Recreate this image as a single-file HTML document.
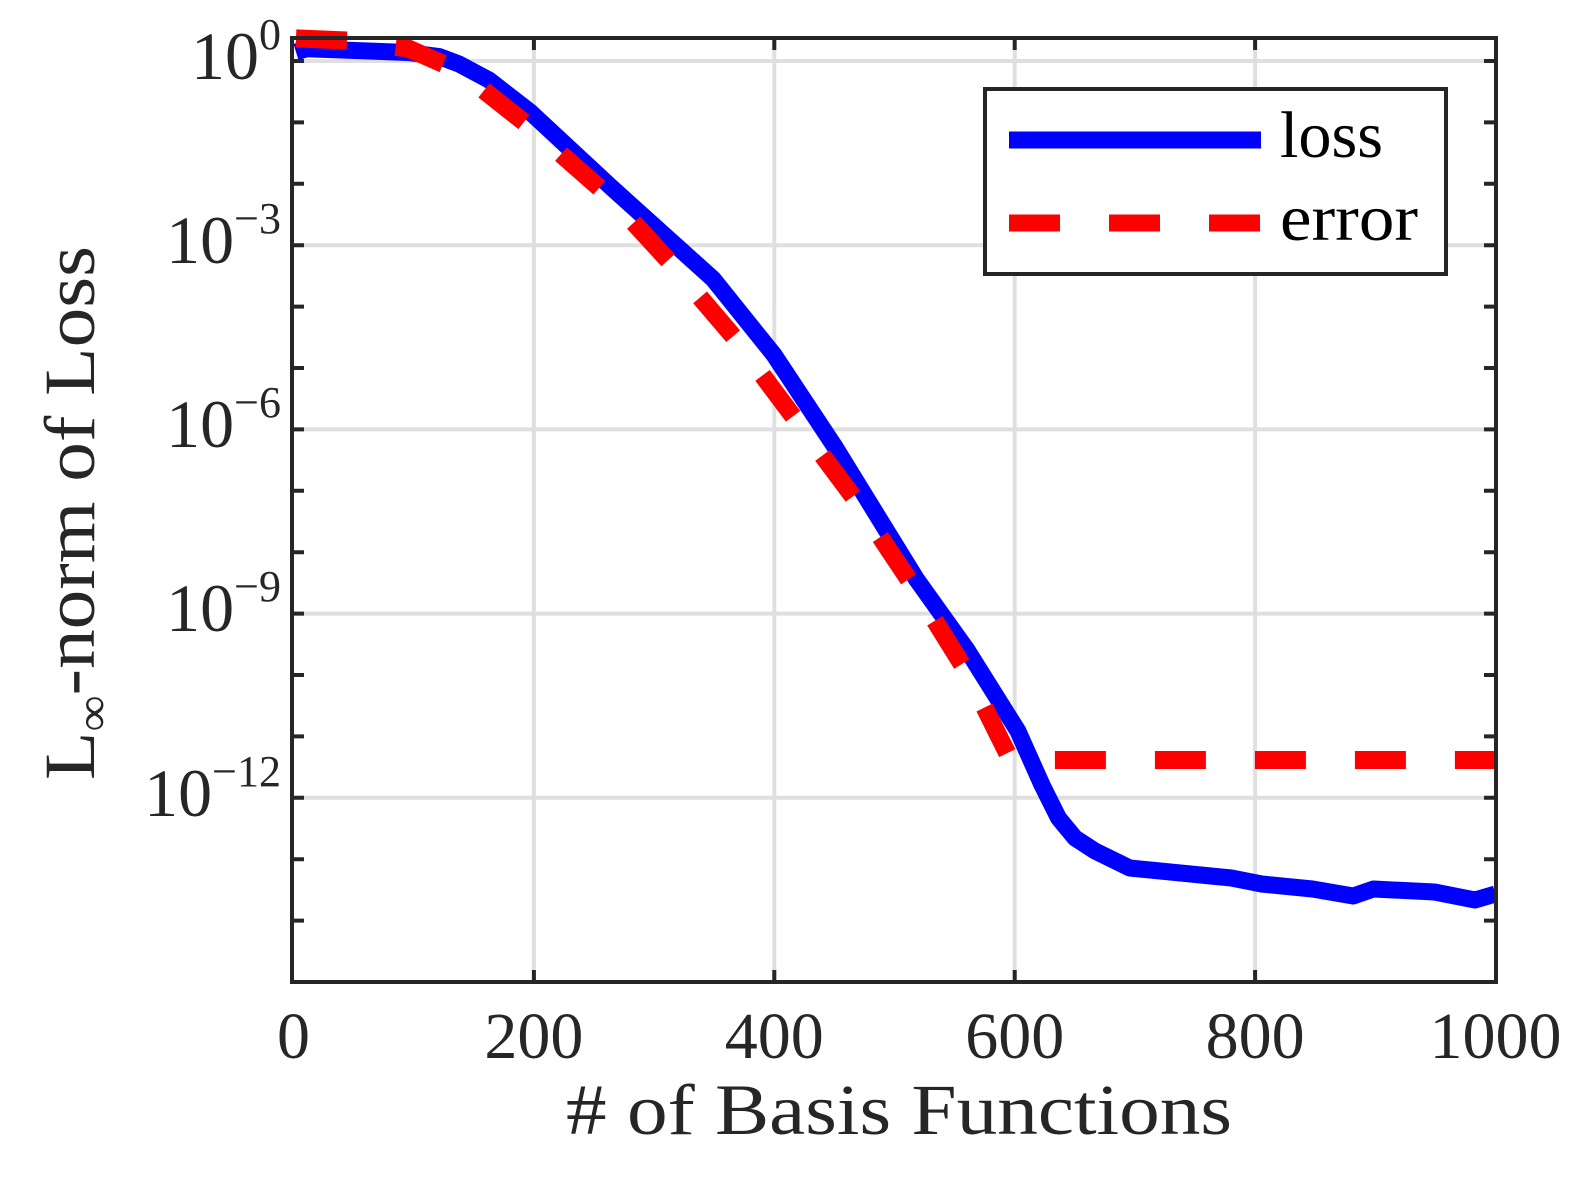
<!DOCTYPE html>
<html><head><meta charset="utf-8"><style>
body{margin:0;background:#fff}
text{font-family:"Liberation Serif",serif;fill:#262626}
</style></head><body>
<svg width="1593" height="1179" viewBox="0 0 1593 1179" xmlns="http://www.w3.org/2000/svg">
<rect width="1593" height="1179" fill="#fff"/>
<g stroke="#dfdfdf" stroke-width="4">
<line x1="533.9" y1="38" x2="533.9" y2="982"/>
<line x1="774.3" y1="38" x2="774.3" y2="982"/>
<line x1="1014.7" y1="38" x2="1014.7" y2="982"/>
<line x1="1255.1" y1="38" x2="1255.1" y2="982"/>
<line x1="292" y1="61" x2="1496" y2="61"/>
<line x1="292" y1="245.2" x2="1496" y2="245.2"/>
<line x1="292" y1="429.4" x2="1496" y2="429.4"/>
<line x1="292" y1="613.6" x2="1496" y2="613.6"/>
<line x1="292" y1="797.8" x2="1496" y2="797.8"/>
</g>
<polyline fill="none" stroke="#0000ff" stroke-width="17" stroke-linejoin="round" points="296,52 306.7,48.7 408.3,52.5 439,56.5 459,64 489,80 530.2,112 611.5,187.5 713.1,279 774.1,355 835,447 916.3,579 967.1,650 1017.9,731 1042,785 1058.5,818 1075,838 1095,851 1129.7,868 1180.5,873 1231.3,878 1261.7,884 1312.5,889 1353.2,896 1373.5,889 1434.5,892 1475.1,900 1495.4,894"/>
<polyline fill="none" stroke="#ff0000" stroke-width="18" stroke-dasharray="51,49" points="296,38.4 347.3,40.5 408.3,48.5 459.1,70.8 530.2,127 611.5,198.5 672.5,265 733.4,336.5 794.4,418 855.3,499.5 916.3,591 967.1,672.5 1007.7,754 1030,760 1496,760"/>
<rect x="292" y="38" width="1204" height="944" fill="none" stroke="#262626" stroke-width="4"/>
<g stroke="#262626" stroke-width="4">
<path d="M533.9,982v-12M774.3,982v-12M1014.7,982v-12M1255.1,982v-12M533.9,38v12M774.3,38v12M1014.7,38v12M1255.1,38v12"/>
<path d="M292,61h12M292,122.4h12M292,183.8h12M292,245.2h12M292,306.6h12M292,368h12M292,429.4h12M292,490.8h12M292,552.2h12M292,613.6h12M292,675h12M292,736.4h12M292,797.8h12M292,859.2h12M292,920.6h12"/>
<path d="M1496,61h-12M1496,122.4h-12M1496,183.8h-12M1496,245.2h-12M1496,306.6h-12M1496,368h-12M1496,429.4h-12M1496,490.8h-12M1496,552.2h-12M1496,613.6h-12M1496,675h-12M1496,736.4h-12M1496,797.8h-12M1496,859.2h-12M1496,920.6h-12"/>
</g>
<g font-size="66" text-anchor="middle">
<text x="293.5" y="1058">0</text>
<text x="533.9" y="1058">200</text>
<text x="774.3" y="1058">400</text>
<text x="1014.7" y="1058">600</text>
<text x="1255.1" y="1058">800</text>
<text x="1495.5" y="1058">1000</text>
</g>
<g font-size="68" text-anchor="end">
<text x="281" y="79">10<tspan font-size="44" dy="-30">0</tspan></text>
<text x="281" y="263">10<tspan font-size="44" dy="-30">−3</tspan></text>
<text x="281" y="447">10<tspan font-size="44" dy="-30">−6</tspan></text>
<text x="281" y="631">10<tspan font-size="44" dy="-30">−9</tspan></text>
<text x="281" y="816">10<tspan font-size="44" dy="-30">−12</tspan></text>
</g>
<text x="566" y="1134" font-size="72" textLength="666" lengthAdjust="spacingAndGlyphs"># of Basis Functions</text>
<text transform="translate(94,780) rotate(-90)" font-size="72" textLength="534" lengthAdjust="spacingAndGlyphs">L<tspan font-size="46" dy="14">∞</tspan><tspan dy="-14">-norm of Loss</tspan></text>
<rect x="985" y="89" width="461" height="185" fill="#fff" stroke="#262626" stroke-width="4"/>
<line x1="1009" y1="140" x2="1261" y2="140" stroke="#0000ff" stroke-width="17"/>
<line x1="1009" y1="223" x2="1261" y2="223" stroke="#ff0000" stroke-width="17" stroke-dasharray="51,49"/>
<text x="1280" y="157" font-size="66" style="fill:#000" textLength="103" lengthAdjust="spacingAndGlyphs">loss</text>
<text x="1280" y="240" font-size="66" style="fill:#000" textLength="138" lengthAdjust="spacingAndGlyphs">error</text>
</svg>
</body></html>
